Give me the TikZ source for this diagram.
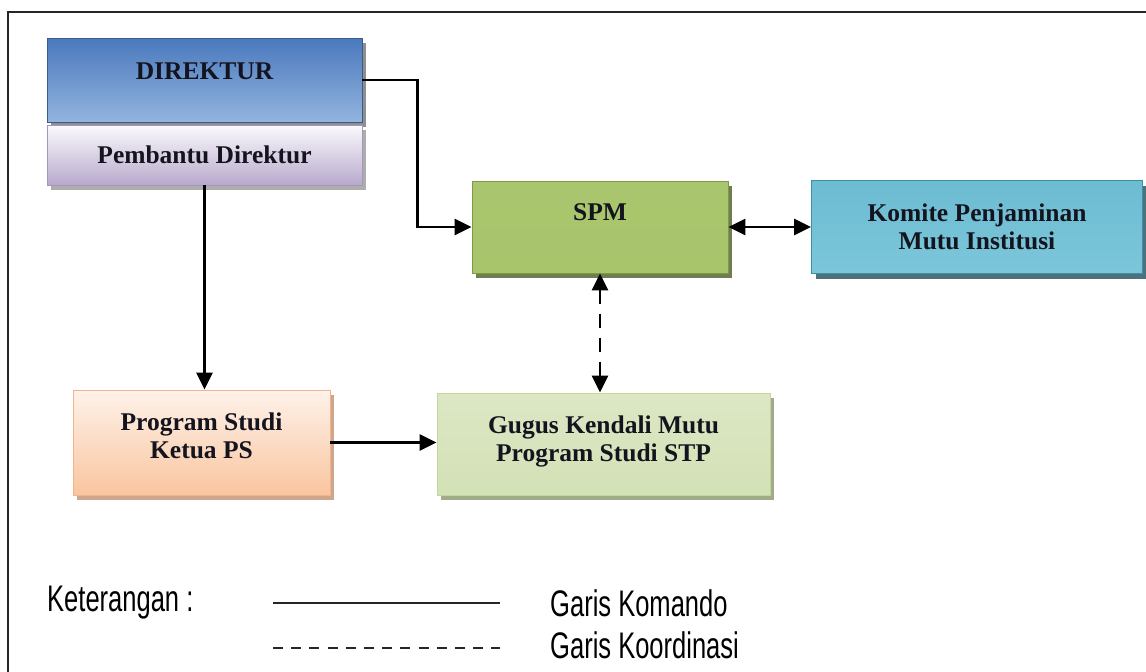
\documentclass[tikz,border=0pt]{standalone}
\usepackage{fontspec}
\setmainfont{Liberation Serif}
\newfontfamily\legendfont[FakeStretch=0.69]{Liberation Sans}
\usetikzlibrary{arrows.meta,shadows}

\definecolor{dirtop}{HTML}{4A79BD}
\definecolor{dirmid}{HTML}{5B8DD2}
\definecolor{dirbot}{HTML}{93B4DF}
\definecolor{dirline}{HTML}{385D8A}
\definecolor{pdtop}{HTML}{FBFAFD}
\definecolor{pdbot}{HTML}{B8A9CC}
\definecolor{pdline}{HTML}{A596BD}
\definecolor{spmtop}{HTML}{A9C66E}
\definecolor{spmmid}{HTML}{93B552}
\definecolor{spmbot}{HTML}{A8C56C}
\definecolor{spmline}{HTML}{7E9B43}
\definecolor{kmtop}{HTML}{6CBCD2}
\definecolor{kmmid}{HTML}{48A9C4}
\definecolor{kmbot}{HTML}{7CC6DA}
\definecolor{kmline}{HTML}{3B8FA6}
\definecolor{pstop}{HTML}{FEF2EA}
\definecolor{psbot}{HTML}{F9C59F}
\definecolor{psline}{HTML}{F2B48A}
\definecolor{gktop}{HTML}{DCE7C4}
\definecolor{gkmid}{HTML}{EEF4E2}
\definecolor{gkbot}{HTML}{D3E1B6}
\definecolor{gkline}{HTML}{C3D69B}
\definecolor{inktext}{HTML}{14141E}

\begin{document}
\begin{tikzpicture}[x=1pt,y=-1pt,
  box/.style={draw, line width=0.8pt, inner sep=0pt},
  boxtext/.style={font=\bfseries\fontsize{25.5}{28}\selectfont, align=center, text=inktext},
  shade/.style={drop shadow={shadow xshift=4pt, shadow yshift=-5pt, opacity=0.8, fill=#1}},
  cmd/.style={line width=2.6pt, -{Triangle[length=17pt,width=16pt]}},
  cmdboth/.style={line width=2.6pt, {Triangle[length=17pt,width=16pt]}-{Triangle[length=17pt,width=16pt]}},
  coord/.style={line width=2.8pt, dash pattern=on 14pt off 10pt,
    {Triangle[length=17pt,width=16pt]}-{Triangle[length=17pt,width=16pt]}},
  legendtext/.style={font=\legendfont\fontsize{37}{38}\selectfont, anchor=west, inner sep=0pt}
]
\useasboundingbox (0,0) rectangle (1146,672);

% outer frame (open to the right and bottom)
\draw[line width=2pt, black!85] (8,672) -- (8,12) -- (1146,12);

% boxes
\node[box, draw=dirline, minimum width=315pt, minimum height=84pt,
  top color=dirtop, middle color=dirmid, bottom color=dirbot, shade=black!55,
  label={[boxtext, yshift=9pt]center:DIREKTUR}] (dir) at (204.5,80) {};
\node[box, draw=pdline, minimum width=315pt, minimum height=60pt,
  top color=pdtop, bottom color=pdbot, shade=black!40,
  label={[boxtext]center:Pembantu Direktur}] (pd) at (204.5,155) {};
\node[box, draw=spmline, minimum width=256pt, minimum height=92pt,
  top color=spmtop, middle color=spmmid, bottom color=spmbot, shade=spmline!60!black,
  label={[boxtext, yshift=15pt]center:SPM}] (spm) at (600,227) {};
\node[box, draw=kmline, minimum width=331pt, minimum height=93pt,
  top color=kmtop, middle color=kmmid, bottom color=kmbot, shade=kmline!55!black,
  label={[boxtext]center:Komite Penjaminan\\Mutu Institusi}] (km) at (977,227) {};
\node[box, draw=psline, minimum width=257pt, minimum height=105pt,
  top color=pstop, bottom color=psbot, shade=psline!80!black,
  label={[boxtext, yshift=7pt]center:Program Studi\\Ketua PS}] (ps) at (201.5,442.5) {};
\node[box, draw=gkline, minimum width=333pt, minimum height=102pt,
  top color=gktop, middle color=gkmid, bottom color=gkbot, shade=gkline!70!black,
  label={[boxtext, yshift=3pt]center:Gugus Kendali Mutu\\Program Studi STP}] (gk) at (603.5,444) {};

% command lines
\draw[cmd] (dir.east) -- ++(55,0) |- (spm.west);
\draw[cmd] (pd.south) -- (pd.south |- ps.north);
\draw[cmd] (ps.east) -- (ps.east -| gk.west);
\draw[cmdboth] (spm.east) -- (km.west);

% coordination line
\draw[coord] (spm.south) -- (spm.south |- gk.north);

% legend
\node[legendtext] (ket) at (47,603) {Keterangan :};
\coordinate (solidA) at (273,603);
\coordinate (solidB) at (500,603);
\coordinate (dashA) at (273,648);
\coordinate (dashB) at (500,648);
\draw[line width=1.8pt, black!85] (solidA) -- (solidB);
\draw[line width=1.8pt, black!85, dash pattern=on 10pt off 8.2pt] (dashA) -- (dashB);
\node[legendtext] (gkom) at (550,603) {Garis Komando};
\node[legendtext] (gkoor) at (550,645) {Garis Koordinasi};
\end{tikzpicture}
\end{document}
